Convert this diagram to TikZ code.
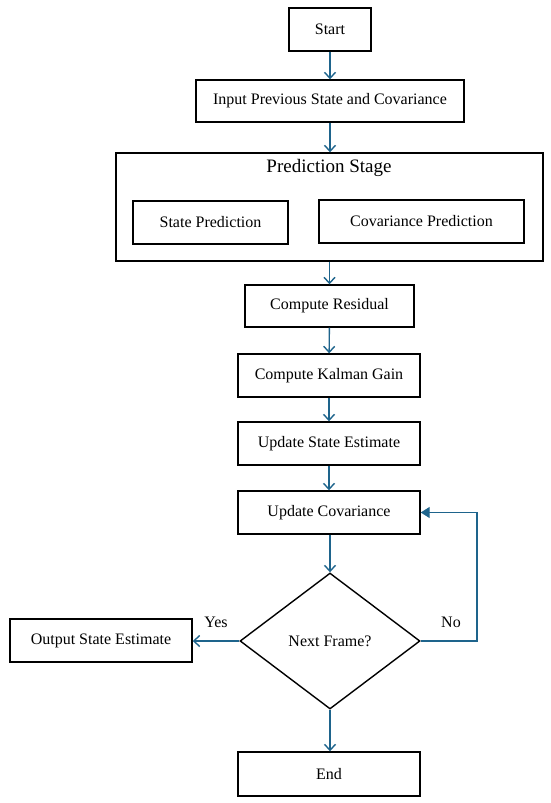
\documentclass[tikz,border=0pt]{standalone}
\usepackage{fontspec}
\setmainfont{Liberation Serif}
\usetikzlibrary{arrows.meta,shapes.geometric}
\definecolor{arr}{RGB}{30,100,140}
\tikzset{
  x=1pt,y=-1pt,
  box/.style={draw=black,line width=1.4pt,inner sep=0pt,font=\fontsize{16}{18}\selectfont,anchor=center},
  flow/.style={draw=arr,line width=1.4pt,-{Straight Barb[length=6pt,width=11pt,line width=1.4pt]}},
  flowfill/.style={draw=arr,line width=1.4pt,-{Triangle[length=9pt,width=11pt,fill=arr]}},
  lab/.style={font=\fontsize{16}{18}\selectfont}
}
\begin{document}
\begin{tikzpicture}
\useasboundingbox (0,0) rectangle (550,803);
\node[box,minimum width=82pt,minimum height=43pt] (start) at (330,29.5) {Start};
\node[box,minimum width=268pt,minimum height=42pt] (input) at (330,101) {Input Previous State and Covariance};
\node[box,minimum width=427pt,minimum height=108pt] (pred) at (329.5,207) {};
\node[font=\fontsize{19}{21}\selectfont] (predt) at (329,168) {Prediction Stage};
\node[box,minimum width=155pt,minimum height=43pt] (sp) at (210.5,222.5) {State Prediction};
\node[box,minimum width=205pt,minimum height=43pt] (cp) at (421.5,221.5) {Covariance Prediction};
\node[box,minimum width=169pt,minimum height=42pt] (res) at (329.5,306) {Compute Residual};
\node[box,minimum width=182pt,minimum height=43pt] (kg) at (329,375.5) {Compute Kalman Gain};
\node[box,minimum width=182pt,minimum height=43pt] (use) at (329,443.5) {Update State Estimate};
\node[box,minimum width=182pt,minimum height=43pt] (uc) at (329,512.5) {Update Covariance};
\node[box,diamond,minimum width=180pt,minimum height=136pt,aspect=1.32] (dec) at (330,641) {Next Frame?};
\node[box,minimum width=182pt,minimum height=43pt] (out) at (101,640.5) {Output State Estimate};
\node[box,minimum width=182pt,minimum height=44pt] (end) at (329,774) {End};
\coordinate (noc) at (477,641);
\draw[flow] (start) -- (input);
\draw[flow] (input) -- (input |- pred.north);
\draw[flow] (pred.south -| res) -- (res);
\draw[flow] (res) -- (kg);
\draw[flow] (kg) -- (use);
\draw[flow] (use) -- (uc);
\draw[flow] (uc.south -| dec.north) -- (dec.north);
\draw[flow] (dec.south) -- (dec.south |- end.north);
\draw[flow] (dec.west) -- (out.east |- dec.west);
\draw[flowfill] (dec.east) -- (noc) |- (uc.east);
\node[lab] (yes) at (216,622) {Yes};
\node[lab] (no) at (451,622) {No};
\end{tikzpicture}
\end{document}
